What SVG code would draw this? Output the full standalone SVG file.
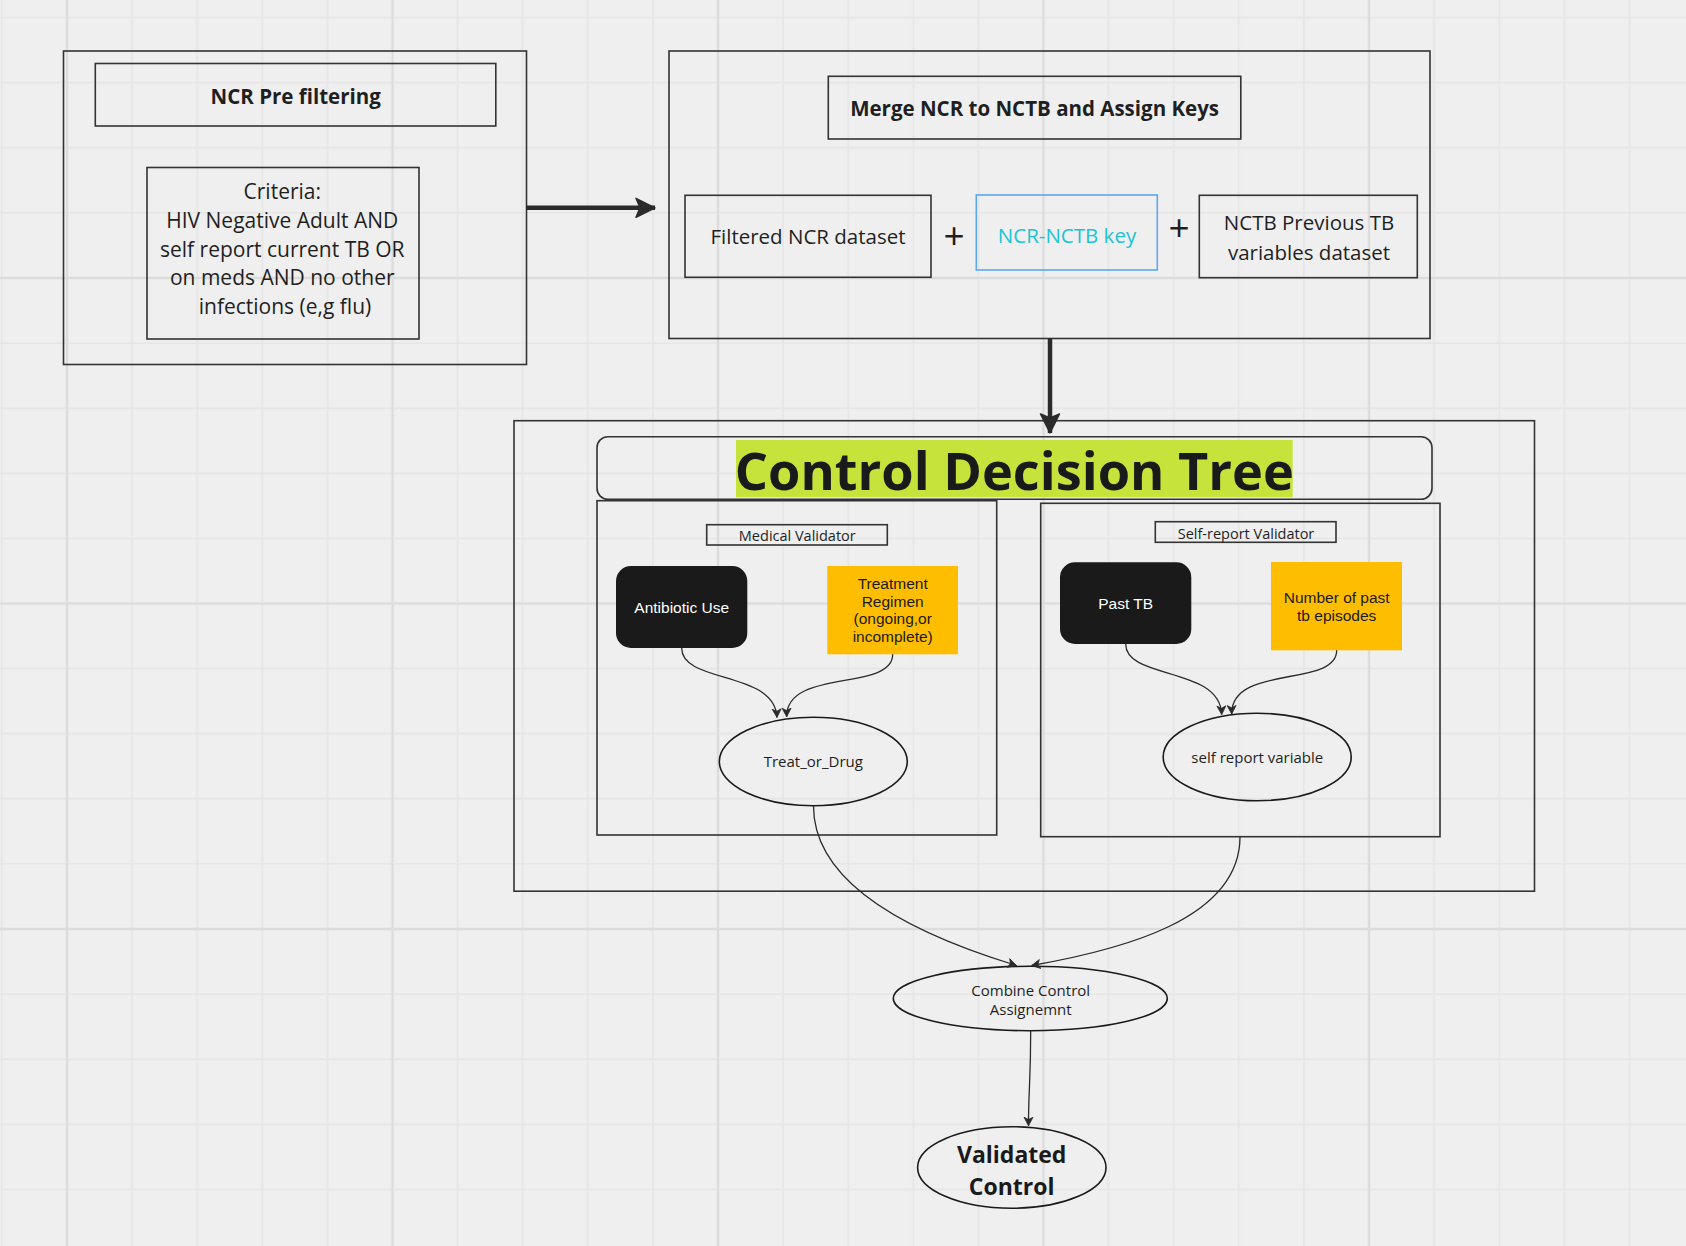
<svg xmlns="http://www.w3.org/2000/svg" width="1686" height="1246" viewBox="0 0 1686 1246">
<style>
.box{fill:none;stroke:#333;stroke-width:1.6}
.t{font-family:"Open Sans","Noto Sans","DejaVu Sans",sans-serif;fill:#1f1f1f;text-anchor:middle}
.a{font-family:"Liberation Sans",Arial,sans-serif;text-anchor:middle}
.b{font-weight:bold}
.ell{fill:none;stroke:#1a1a1a;stroke-width:1.6}
.con{fill:none;stroke:#2b2b2b;stroke-width:1.3}
.thick{fill:none;stroke:#2b2b2b;stroke-width:4.5}
</style>
<defs>
<pattern id="grid" patternUnits="userSpaceOnUse" x="67" y="278" width="325.5" height="325.5">
<rect width="325.5" height="325.5" fill="#efefef"/>
<g stroke="#e5e5e5" stroke-width="1.6">
<line x1="65.1" y1="0" x2="65.1" y2="325.5"/><line x1="130.2" y1="0" x2="130.2" y2="325.5"/><line x1="195.3" y1="0" x2="195.3" y2="325.5"/><line x1="260.4" y1="0" x2="260.4" y2="325.5"/>
<line y1="65.1" x1="0" y2="65.1" x2="325.5"/><line y1="130.2" x1="0" y2="130.2" x2="325.5"/><line y1="195.3" x1="0" y2="195.3" x2="325.5"/><line y1="260.4" x1="0" y2="260.4" x2="325.5"/>
</g>
<g stroke="#dcdcdc" stroke-width="2.4">
<line x1="0" y1="0" x2="0" y2="325.5"/><line x1="325.5" y1="0" x2="325.5" y2="325.5"/>
<line x1="0" y1="0" x2="325.5" y2="0"/><line x1="0" y1="325.5" x2="325.5" y2="325.5"/>
</g>
</pattern>
<marker id="big" markerUnits="userSpaceOnUse" markerWidth="22" markerHeight="22" refX="20" refY="10.5" orient="auto">
<path d="M1,1 L20,10.5 L1,20 L5,10.5 Z" fill="#2b2b2b" stroke="#2b2b2b" stroke-width="1.5" stroke-linejoin="round"/>
</marker>
<marker id="sm" markerUnits="userSpaceOnUse" markerWidth="11" markerHeight="11" refX="9" refY="5" orient="auto">
<path d="M0.5,0.5 L9,5 L0.5,9.5 L2.8,5 Z" fill="#2b2b2b" stroke="#2b2b2b" stroke-width="0.8" stroke-linejoin="round"/>
</marker>
</defs>
<rect width="1686" height="1246" fill="url(#grid)"/>

<g id="prefilter">
<rect class="box" x="63.5" y="51" width="463" height="313.5"/>
<rect class="box" x="95.3" y="63.5" width="400.5" height="62.5"/>
<text class="t b" x="295.7" y="104" font-size="20.5">NCR Pre filtering</text>
<rect class="box" x="147" y="167.5" width="272" height="171.5"/>
<text class="t" font-size="21">
<tspan x="285" y="199.3">Criteria:</tspan>
<tspan x="285" y="228">HIV Negative Adult AND</tspan>
<tspan x="285" y="256.7">self report current TB OR</tspan>
<tspan x="285" y="285.3">on meds AND no other</tspan>
<tspan x="285" y="314">infections (e,g flu)</tspan>
</text>
</g>

<g id="merge">
<rect class="box" x="669" y="51" width="761" height="287.5"/>
<rect class="box" x="828.3" y="76.3" width="412.5" height="62.7"/>
<text class="t b" x="1034.6" y="116" font-size="20.5">Merge NCR to NCTB and Assign Keys</text>
</g>
<g id="filtered">
<rect class="box" x="685" y="195.3" width="246" height="82"/>
<text class="t" x="808" y="244" font-size="20.5">Filtered NCR dataset</text>
</g>
<text class="t" x="954" y="249" font-size="37">+</text>
<g id="key">
<rect x="976.3" y="195" width="181" height="75" fill="none" stroke="#5aa7f2" stroke-width="1.6"/>
<text class="t" x="1067" y="243" font-size="20.5" style="fill:#20c3d6">NCR-NCTB key</text>
</g>
<text class="t" x="1179" y="241" font-size="37">+</text>
<g id="nctb">
<rect class="box" x="1199.3" y="195.3" width="218" height="82.4"/>
<text class="t" font-size="20.5"><tspan x="1309" y="230">NCTB Previous TB</tspan><tspan x="1309" y="259.5">variables dataset</tspan></text>
</g>

<g id="control-tree">
<rect class="box" x="514" y="420.7" width="1020.5" height="470.5"/>
<rect class="box" x="597" y="436.7" width="835" height="62.6" rx="11"/>
<rect x="736" y="440" width="556.7" height="57.3" fill="#c6e33b"/>
<text class="t b" x="1014.3" y="490" font-size="52.3" style="fill:#1a1a1a">Control Decision Tree</text>
</g>

<g id="medical-validator">
<rect class="box" x="597" y="500.7" width="399.7" height="334.3"/>
<rect class="box" x="706.7" y="524.7" width="180.6" height="20.3"/>
<text class="t" x="797.3" y="540.5" font-size="14.5">Medical Validator</text>
</g>
<g id="antibiotic">
<rect x="616" y="566" width="131.3" height="82" rx="15" fill="#1a1a1a"/>
<text class="a" x="681.7" y="612.7" font-size="15.5" fill="#ffffff">Antibiotic Use</text>
</g>
<g id="treatment">
<rect x="827.3" y="566" width="130.7" height="88.3" fill="#ffbd00"/>
<text class="a" font-size="15.5" fill="#1a1a1a"><tspan x="892.7" y="589.3">Treatment</tspan><tspan x="892.7" y="607">Regimen</tspan><tspan x="892.7" y="624.3">(ongoing,or</tspan><tspan x="892.7" y="641.7">incomplete)</tspan></text>
</g>
<g id="treat-or-drug">
<ellipse class="ell" cx="813.3" cy="761.5" rx="94" ry="44.2"/>
<text class="t" x="813.3" y="766.7" font-size="15">Treat_or_Drug</text>
</g>

<g id="selfreport-validator">
<rect class="box" x="1040.7" y="503.3" width="399.3" height="333.4"/>
<rect class="box" x="1155.3" y="521.7" width="180.7" height="20.6"/>
<text class="t" x="1246" y="538.5" font-size="14.5">Self-report Validator</text>
</g>
<g id="past-tb">
<rect x="1060" y="562.3" width="131.3" height="81.7" rx="15" fill="#1a1a1a"/>
<text class="a" x="1125.7" y="609" font-size="15.5" fill="#ffffff">Past TB</text>
</g>
<g id="num-episodes">
<rect x="1271" y="562" width="131" height="88.3" fill="#ffbd00"/>
<text class="a" font-size="15.5" fill="#1a1a1a"><tspan x="1336.7" y="603.3">Number of past</tspan><tspan x="1336.7" y="620.7">tb episodes</tspan></text>
</g>
<g id="self-report-variable">
<ellipse class="ell" cx="1257.2" cy="757" rx="94" ry="43.7"/>
<text class="t" x="1257.3" y="762.7" font-size="15">self report variable</text>
</g>

<g id="combine">
<ellipse class="ell" cx="1030.3" cy="998.5" rx="137" ry="32.2"/>
<text class="t" font-size="15"><tspan x="1030.7" y="995.5">Combine Control</tspan><tspan x="1030.7" y="1014.5">Assignemnt</tspan></text>
</g>
<g id="validated">
<ellipse class="ell" cx="1011.8" cy="1167.5" rx="94.2" ry="40.8"/>
<text class="t b" font-size="23" style="fill:#1a1a1a"><tspan x="1011.7" y="1163">Validated</tspan><tspan x="1011.7" y="1195">Control</tspan></text>
</g>

<g id="connectors">
<path class="thick" d="M526.5,207.8 L655,207.8" marker-end="url(#big)"/>
<path class="thick" d="M1050,338.5 L1050,433" marker-end="url(#big)"/>
<path class="con" d="M681.7,648 C681.7,684 775,670 777,717.5" marker-end="url(#sm)"/>
<path class="con" d="M892.7,654.3 C892.7,692 786,668 786.7,716.7" marker-end="url(#sm)"/>
<path class="con" d="M1125.7,644 C1125.7,680 1220,666 1221.7,714.5" marker-end="url(#sm)"/>
<path class="con" d="M1336.7,650.3 C1336.7,688 1231,664 1231.7,714" marker-end="url(#sm)"/>
<path class="con" d="M813.5,806 C813.5,880 900,930 1016.5,965.5" marker-end="url(#sm)"/>
<path class="con" d="M1240,836.7 C1240,920 1120,950 1031.7,965.5" marker-end="url(#sm)"/>
<path class="con" d="M1030.7,1030.7 C1030.7,1080 1028.5,1090 1028.5,1125.7" marker-end="url(#sm)"/>
</g>
</svg>
